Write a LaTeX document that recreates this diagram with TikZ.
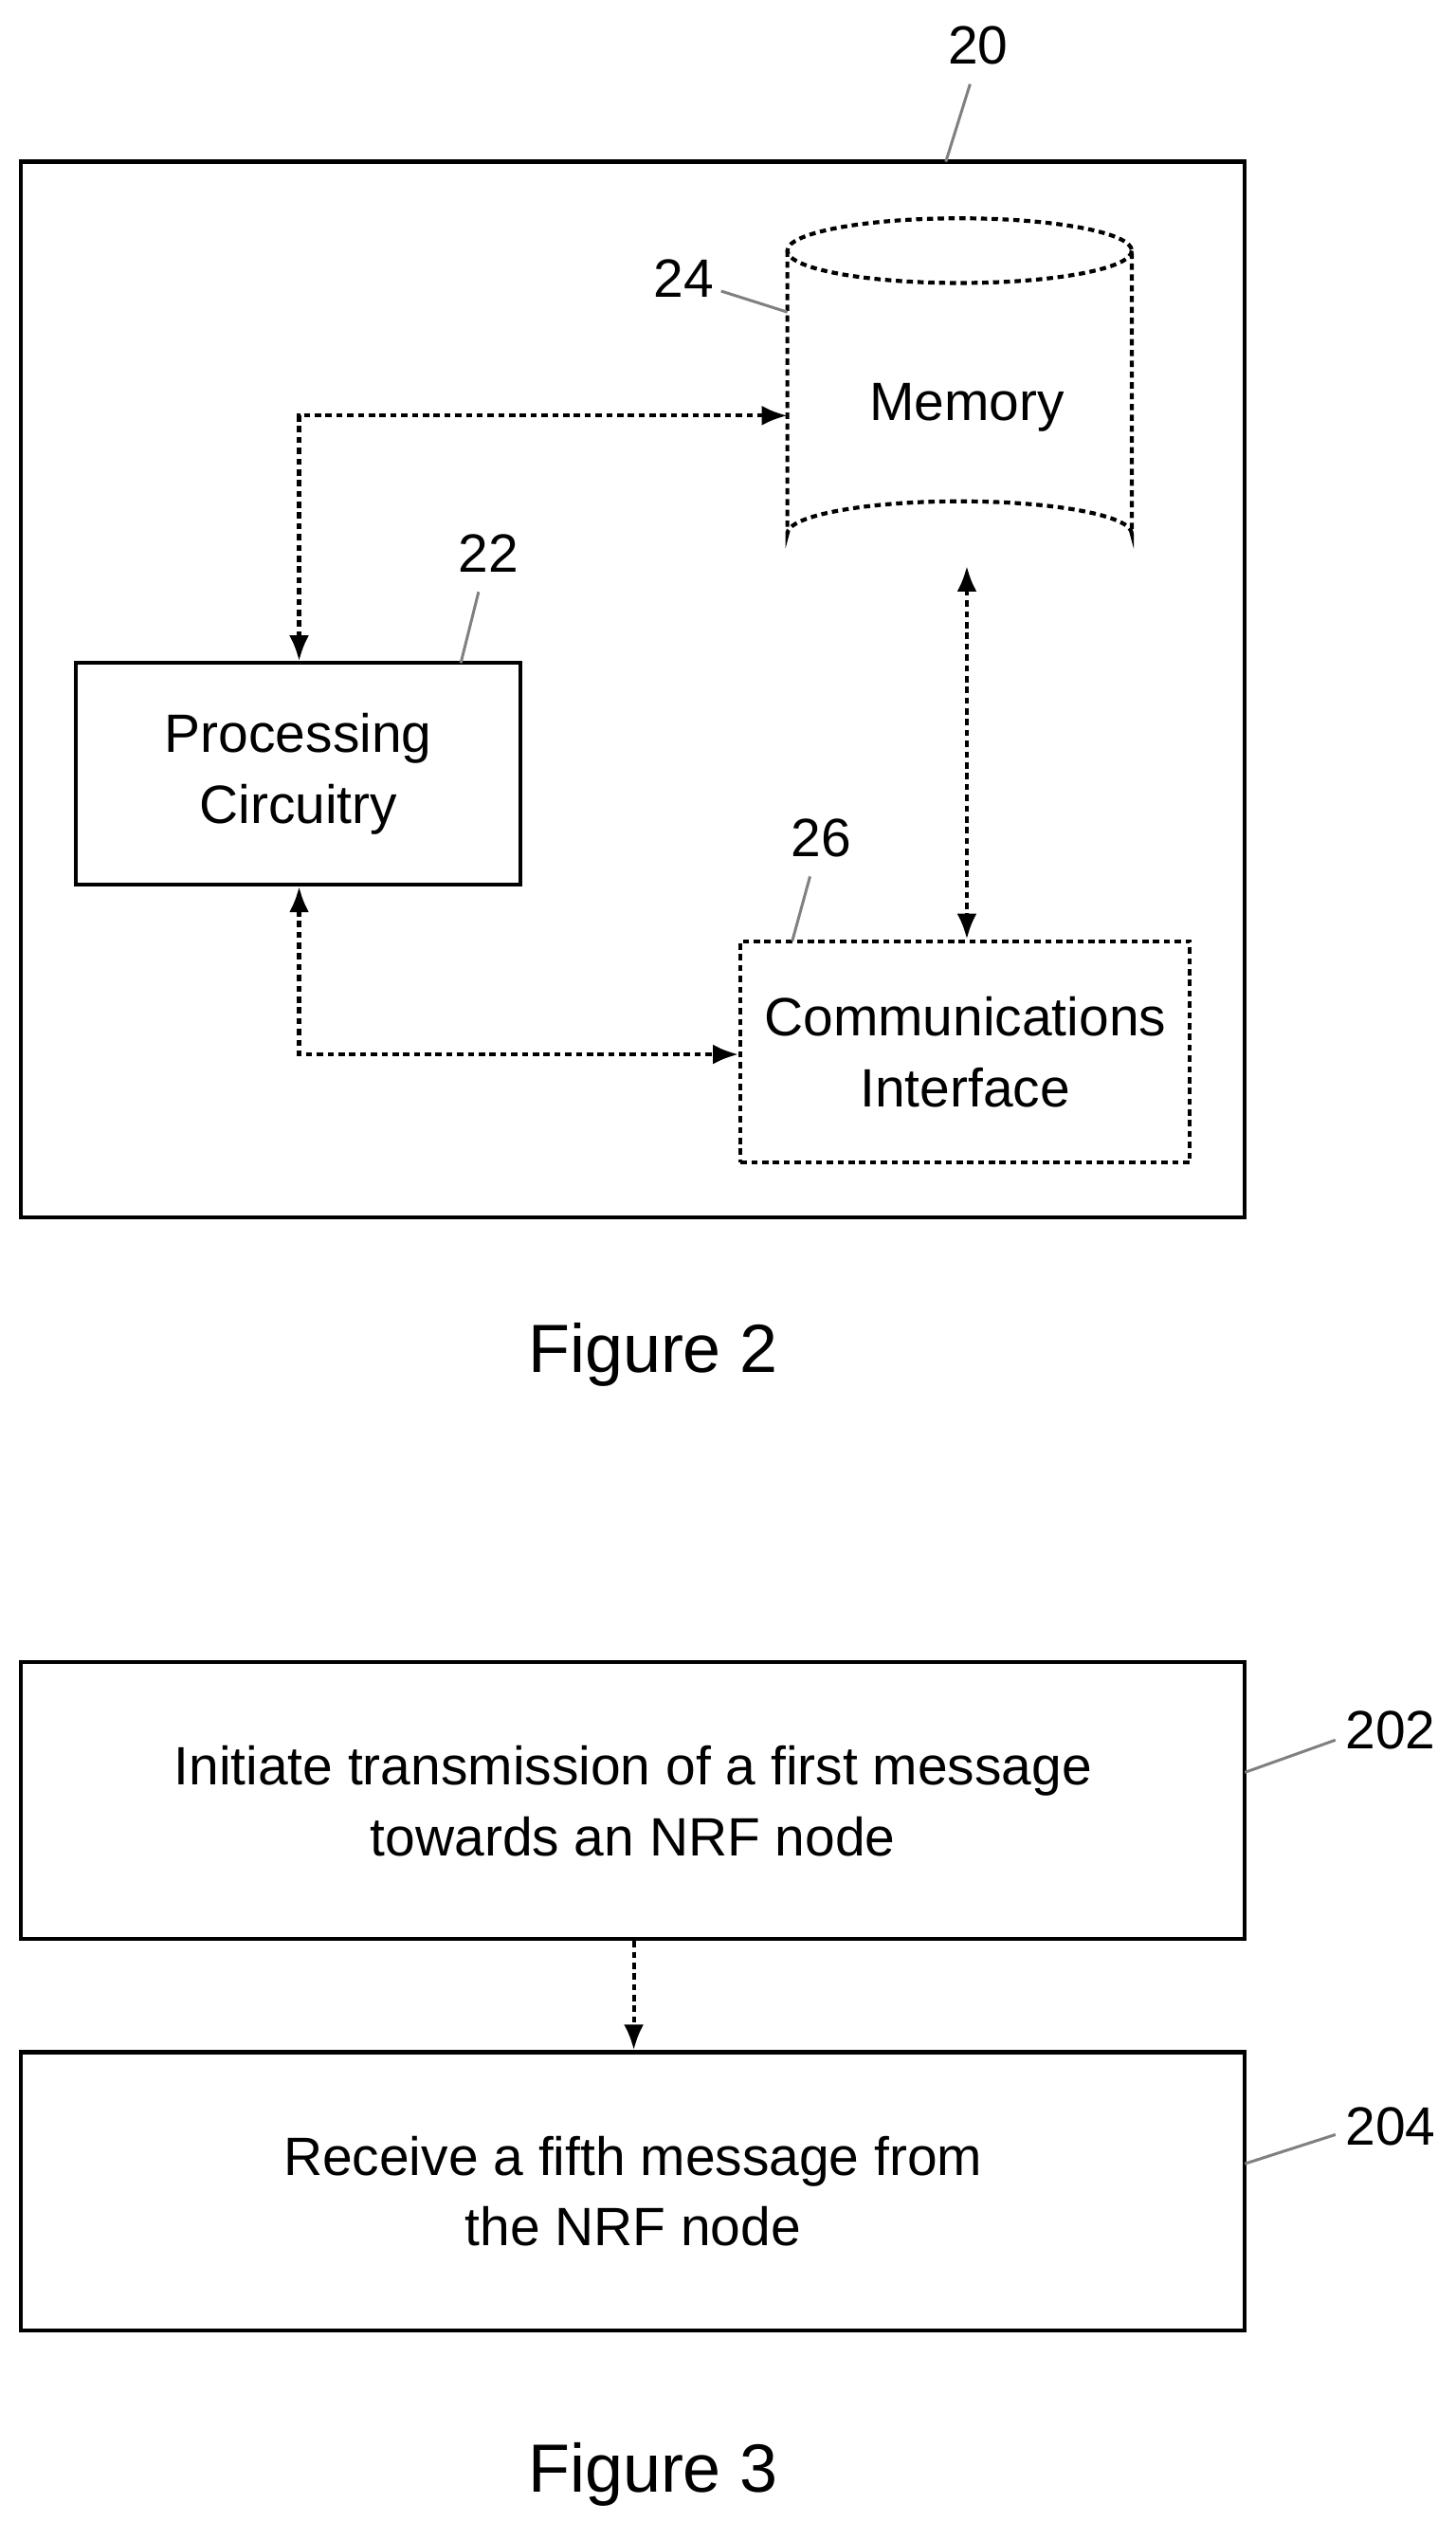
\documentclass[tikz,border=0pt]{standalone}
\usepackage{fontspec}
\setmainfont{Liberation Sans}
\usetikzlibrary{arrows.meta,shapes.geometric}
\begin{document}
\begin{tikzpicture}[x=0.02cm,y=-0.02cm,
  box/.style={draw,line width=1.4pt,inner sep=0},
  dbox/.style={draw,line width=1.4pt,dash pattern=on 2.2pt off 1.6pt},
  conn/.style={line width=1.4pt,dash pattern=on 2.2pt off 1.6pt,{Latex[length=9pt,width=7pt]}-{Latex[length=9pt,width=7pt]}},
  lead/.style={draw=gray,line width=1pt},
  txt/.style={font=\fontsize{19}{23}\selectfont,align=center},
  fig/.style={font=\fontsize{24}{28}\selectfont}]
\useasboundingbox (0,0) rectangle (900,1570.7);
\node[box,minimum width=757*0.02cm,minimum height=653*0.02cm] (outer) at (391.5,426.5) {};
\node[txt] (l20) at (605,28) {20};
\draw[lead] (585,100) -- (600,52);
% cylinder
\draw[dbox] (487,155) -- (487,330) arc[start angle=180,end angle=360,x radius=106.5,y radius=20] -- (700,155);
\draw[dbox] (593.5,155) ellipse[x radius=106.5,y radius=20];
\coordinate (memL) at (487,257);
\coordinate (memB) at (598,350);
\node[txt] (mem) at (598,252) {Memory};
\node[txt] (l24) at (423,172) {24};
\draw[lead] (446,180) -- (487,193);
\node[box,minimum width=275*0.02cm,minimum height=137*0.02cm,txt] (proc) at (184.5,478.5) {Processing\\[2pt]Circuitry};
\node[txt] (l22) at (302,342) {22};
\draw[lead] (285,410) -- (296,366);
\node[dbox,minimum width=278*0.02cm,minimum height=137*0.02cm,txt] (comm) at (597,650.5) {Communications\\[2pt]Interface};
\node[txt] (l26) at (508,518) {26};
\draw[lead] (490,582) -- (501,542);
\coordinate (c1) at (185,257);
\coordinate (c2) at (185,652);
\draw[conn] (proc.north -| c1) -- (c1) -- (memL);
\draw[conn] (proc.south -| c2) -- (c2) -- (comm.west |- c2);
\draw[conn] (memB) -- (comm.north -| memB);
\node[fig] (f2) at (404,838) {Figure 2};
% Figure 3
\node[box,minimum width=757*0.02cm,minimum height=171*0.02cm,txt] (b202) at (391.5,1113.5) {Initiate transmission of a first message\\[2pt]towards an NRF node};
\node[txt] (l202) at (860,1070) {202};
\draw[lead] (770,1096) -- (826,1076);
\node[box,minimum width=757*0.02cm,minimum height=172*0.02cm,txt] (b204) at (391.5,1355) {Receive a fifth message from\\[2pt]the NRF node};
\node[txt] (l204) at (860,1315) {204};
\draw[lead] (770,1338) -- (826,1320);
\draw[line width=1.4pt,dash pattern=on 2.2pt off 1.6pt,-{Latex[length=9pt,width=7pt]}] (b202.south -| 392,0) -- (b204.north -| 392,0);
\node[fig] (f3) at (404,1530) {Figure 3};
\end{tikzpicture}
\end{document}
